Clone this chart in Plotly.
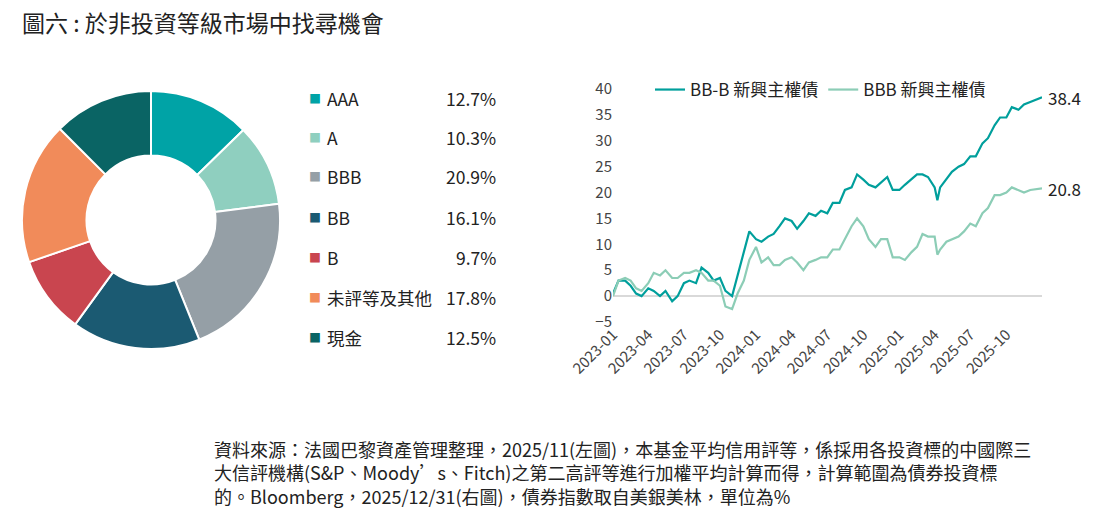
import plotly.graph_objects as go

# 左圖：信用評等分布
ratings = ["AAA", "A", "BBB", "BB", "B", "未評等及其他", "現金"]
weights = [12.7, 10.3, 20.9, 16.1, 9.7, 17.8, 12.5]
colors = ["#00a3a6", "#8fcfbf", "#959fa6", "#1b5a72", "#c9454f", "#f18b5a", "#0a6464"]

# 右圖：指數累積報酬 (%)
dates = [
    "2023-01-01", "2023-01-15", "2023-02-01", "2023-02-15", "2023-03-01", "2023-03-15",
    "2023-04-01", "2023-04-15", "2023-05-01", "2023-05-15", "2023-06-01", "2023-06-15",
    "2023-07-01", "2023-07-15", "2023-08-01", "2023-08-15", "2023-09-01", "2023-09-15",
    "2023-10-01", "2023-10-15", "2023-11-01", "2023-11-15", "2023-12-01", "2023-12-15",
    "2024-01-01", "2024-01-15", "2024-02-01", "2024-02-15", "2024-03-01", "2024-03-15",
    "2024-04-01", "2024-04-15", "2024-05-01", "2024-05-15", "2024-06-01", "2024-06-15",
    "2024-07-01", "2024-07-15", "2024-08-01", "2024-08-15", "2024-09-01", "2024-09-15",
    "2024-10-01", "2024-10-15", "2024-11-01", "2024-11-15", "2024-12-01", "2024-12-15",
    "2025-01-01", "2025-01-15", "2025-02-01", "2025-02-15", "2025-03-01", "2025-03-15",
    "2025-04-01", "2025-04-08", "2025-04-15", "2025-05-01", "2025-05-15", "2025-06-01",
    "2025-06-15", "2025-07-01", "2025-07-15", "2025-08-01", "2025-08-15", "2025-09-01",
    "2025-09-15", "2025-10-01", "2025-10-15", "2025-11-01", "2025-11-15", "2025-12-01",
    "2025-12-31",
]
bb_b = [
    0.5, 3, 3, 2, 0.5, 0, 1.5, 1, 0, 1, -1, 0,
    2.5, 3, 2.5, 5.5, 4.5, 3, 3.5, 1, 0, 4, 8, 12.5,
    11, 10.5, 11.5, 12, 13.5, 15, 14.5, 13, 14.5, 16, 15.5, 16.5,
    16, 18, 18, 20.5, 21, 23.5, 22.5, 21.5, 21, 22, 23, 20.5,
    20.5, 21.5, 22.5, 23.5, 23.5, 23, 21, 18.5, 21, 22.5, 24, 25,
    25.5, 27, 27, 29.5, 30.5, 33, 34.5, 34.5, 36.5, 36, 37, 37.5,
    38.4,
]
bbb = [
    0, 3, 3.5, 3, 1.5, 1, 2.5, 4.5, 4, 5, 3.5, 3.5,
    4.5, 4.5, 5, 4.5, 3, 3, 2, -2, -2.5, 0.5, 3, 7,
    9.5, 6.5, 7.5, 6, 6, 7, 7.5, 6.5, 5, 6.5, 7, 7.5,
    7.5, 9, 9, 11, 13.5, 15, 13.5, 11, 9.5, 11, 11, 7.5,
    7.5, 7, 8.5, 9.5, 12, 11.5, 11.5, 8, 9, 10.5, 11, 11.5,
    12.5, 14, 13.5, 16, 17, 19.5, 19.5, 20, 21, 20.5, 20, 20.5,
    20.8,
]
tick_months = ["2023-01-01", "2023-04-01", "2023-07-01", "2023-10-01", "2024-01-01",
               "2024-04-01", "2024-07-01", "2024-10-01", "2025-01-01", "2025-04-01",
               "2025-07-01", "2025-10-01"]

W, H = 1112, 520
font = "Noto Sans CJK TC, Noto Sans, sans-serif"

def px(x):
    return (x - 8) / W

def py(y):
    return 1 - (y - 8) / H

fig = go.Figure()
fig.add_trace(go.Pie(
    labels=ratings, values=weights, hole=0.5, sort=False, direction="clockwise",
    marker=dict(colors=colors, line=dict(color="white", width=2)),
    textinfo="none", hoverinfo="label+percent", showlegend=False,
    domain=dict(x=[px(22), px(280)], y=[py(350), py(90)]),
))
fig.add_trace(go.Scatter(x=dates, y=bb_b, mode="lines", name="BB-B 新興主權債",
                         line=dict(color="#009f9c", width=2.2)))
fig.add_trace(go.Scatter(x=dates, y=bbb, mode="lines", name="BBB 新興主權債",
                         line=dict(color="#8ccdb6", width=2.2)))

def note(x, y, text, size=17.5, anchor="left", color="#222", yanchor="middle"):
    return dict(x=px(x), y=py(y), xref="paper", yref="paper", text=text, showarrow=False,
                xanchor=anchor, yanchor=yanchor, align="left", font=dict(size=size, color=color))

ann = []
ys = [98, 137, 177, 217, 257, 297, 337]
for r, v, c, y in zip(ratings, weights, colors, ys):
    ann.append(note(315, y, "■", size=12, anchor="center", color=c))
    ann.append(note(325, y, r))
    ann.append(note(498, y, f"{v:.1f}%", anchor="right"))
ann.append(dict(x=dates[-1], y=bb_b[-1], xref="x", yref="y", text=f"{bb_b[-1]}", showarrow=False,
                xanchor="left", xshift=4, font=dict(size=17, color="#222")))
ann.append(dict(x=dates[-1], y=bbb[-1], xref="x", yref="y", text=f"{bbb[-1]}", showarrow=False,
                xanchor="left", xshift=4, font=dict(size=17, color="#222")))
ann.append(note(20, 22, "圖六 : 於非投資等級市場中找尋機會", size=23))
ann.append(note(212, 434,
    "資料來源：法國巴黎資產管理整理，2025/11(左圖)，本基金平均信用評等，係採用各投資標的中國際三<br>"
    "大信評機構(S&P、Moody’s、Fitch)之第二高評等進行加權平均計算而得，計算範圍為債券投資標<br>"
    "的。Bloomberg，2025/12/31(右圖)，債券指數取自美銀美林，單位為%",
    size=18, yanchor="top"))

fig.update_layout(
    width=W, height=H, margin=dict(l=0, r=0, t=0, b=0, pad=0, autoexpand=False),
    paper_bgcolor="white", plot_bgcolor="white",
    font=dict(family=font, color="#222"),
    annotations=ann,
    legend=dict(orientation="h", x=px(650), y=py(90), xanchor="left", yanchor="middle",
                font=dict(size=17), bgcolor="rgba(0,0,0,0)"),
    xaxis=dict(domain=[px(613), px(1042)], range=["2023-01-01", "2025-12-31"],
               tickvals=tick_months, ticktext=[d[:7] for d in tick_months], tickangle=-45,
               showgrid=False, showline=False, zeroline=False, anchor="y", automargin=False,
               tickfont=dict(size=15, color="#444")),
    yaxis=dict(domain=[py(322), py(89)], range=[-5, 40], dtick=5, automargin=False,
               showgrid=False, zeroline=True, zerolinecolor="#d9d9d9", zerolinewidth=1.5,
               tickfont=dict(size=15, color="#444")),
)
fig.write_html("out.html")
